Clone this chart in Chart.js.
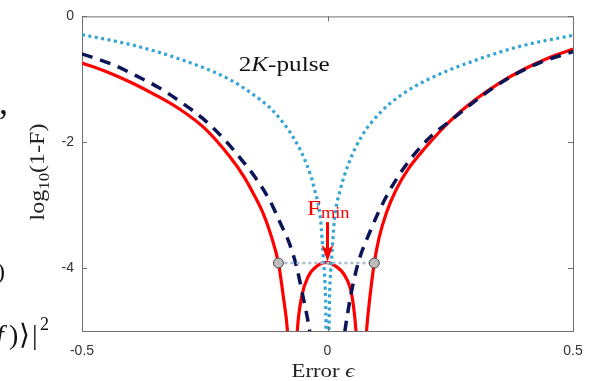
<!DOCTYPE html>
<html>
<head>
<meta charset="utf-8">
<script src="https://cdn.jsdelivr.net/npm/chart.js@4.4.0/dist/chart.umd.min.js"></script>
<style>
  html, body { margin: 0; padding: 0; background: #fff; }
  #wrap { width: 595px; height: 381px; }
</style>
</head>
<body>
<div id="wrap"><canvas id="chart" width="595" height="381"></canvas></div>
<script>
// axis ticks
const xTicks = [-0.5, 0, 0.5]
const yTicks = [0, -2, -4]

// 2K-pulse, dotted
const pulseX = [-0.5, -0.4, -0.3, -0.2, -0.15, -0.111, -0.07, -0.043, -0.026, -0.014, -0.0085, -0.004, 0,
  0.004, 0.0085, 0.014, 0.026, 0.043, 0.07, 0.111, 0.15, 0.2, 0.3, 0.4, 0.5]
const pulseY = [-0.29, -0.45, -0.68, -1.0, -1.25, -1.5, -1.92, -2.34, -2.76, -3.24, -3.85, -4.5, -6.5,
  -4.5, -3.85, -3.24, -2.76, -2.34, -1.9, -1.5, -1.25, -1.02, -0.7, -0.46, -0.3]

// dashed curve
const dashX = [-0.5, -0.439, -0.388, -0.344, -0.297, -0.256, -0.213, -0.179, -0.148, -0.118, -0.094, -0.077,
  -0.063, -0.05, -0.037, -0.02, 0, 0.02, 0.036, 0.058, 0.091, 0.118, 0.145, 0.175, 0.213, 0.25, 0.285,
  0.333, 0.38, 0.434, 0.5]
const dashY = [-0.595, -0.76, -0.95, -1.13, -1.37, -1.61, -1.93, -2.24, -2.55, -2.92, -3.32, -3.62,
  -3.98, -4.45, -4.97, -6.0, -8.0, -6.0, -4.97, -4.05, -3.34, -2.89, -2.53, -2.21, -1.89, -1.66, -1.44,
  -1.16, -0.93, -0.73, -0.56]

// solid curve
const solidX = [-0.5, -0.45, -0.4, -0.35, -0.3, -0.25, -0.2, -0.17, -0.15, -0.13, -0.115, -0.1, -0.09,
  -0.0815, -0.0705, -0.0615, -0.0525, -0.039, -0.02, -0.003, 0.015, 0.036, 0.05, 0.058, 0.0685,
  0.0795, 0.087, 0.0953, 0.105, 0.12, 0.14, 0.165, 0.2, 0.25, 0.3, 0.35, 0.4, 0.45, 0.5]
const solidY = [-0.74, -0.88, -1.05, -1.25, -1.48, -1.78, -2.22, -2.55, -2.83, -3.15, -3.48, -3.92, -4.45,
  -5.0, -6.5, -5.0, -4.45, -4.13, -3.96, -3.91, -3.96, -4.13, -4.45, -5.0, -6.5,
  -5.0, -4.42, -3.92, -3.52, -3.12, -2.75, -2.42, -2.08, -1.66, -1.33, -1.06, -0.84, -0.66, -0.52]

// F_min level and where the solid curve crosses it
const levelX = [-0.1, 0.0953]
const levelY = [-3.92, -3.92]

// F_min arrow (x, from y, to y)
const arrowX = 0
const arrowFrom = -3.27
const arrowTo = -3.9

const toPoints = (xs, ys) => xs.map((x, i) => ({ x: x, y: ys[i] }))

const frameColor = '#6e6e6e'
const serif = 'Liberation Serif'

function drawRuns(ctx, runs, x, y, align, stretch) {
  let w = 0
  runs.forEach(r => { ctx.font = r[1]; w += ctx.measureText(r[0]).width })
  let cx = align === 'center' ? -w / 2 : 0
  ctx.save()
  ctx.translate(x, y)
  ctx.scale(stretch, 1)
  ctx.textAlign = 'left'
  ctx.textBaseline = 'alphabetic'
  runs.forEach(r => {
    ctx.font = r[1]
    ctx.fillText(r[0], cx, r[2] || 0)
    cx += ctx.measureText(r[0]).width
  })
  ctx.restore()
}

// top/right border and inward tick marks
const framePlugin = {
  id: 'frame',
  afterDatasetsDraw(chart) {
    const { ctx, chartArea: a, scales } = chart
    ctx.save()
    ctx.strokeStyle = frameColor
    ctx.lineWidth = 1
    ctx.beginPath()
    ctx.moveTo(a.left, a.top + 0.5)
    ctx.lineTo(a.right + 0.5, a.top + 0.5)
    ctx.lineTo(a.right + 0.5, a.bottom)
    xTicks.forEach(v => {
      const px = Math.round(scales.x.getPixelForValue(v)) + 0.5
      ctx.moveTo(px, a.top); ctx.lineTo(px, a.top + 5)
      ctx.moveTo(px, a.bottom); ctx.lineTo(px, a.bottom - 5)
    })
    yTicks.forEach(v => {
      const py = Math.round(scales.y.getPixelForValue(v)) + 0.5
      ctx.moveTo(a.left, py); ctx.lineTo(a.left + 5, py)
      ctx.moveTo(a.right, py); ctx.lineTo(a.right - 5, py)
    })
    ctx.stroke()

    // F_min arrow
    const ax = scales.x.getPixelForValue(arrowX)
    const y0 = scales.y.getPixelForValue(arrowFrom)
    const y1 = scales.y.getPixelForValue(arrowTo)
    ctx.strokeStyle = '#ff0000'
    ctx.fillStyle = '#ff0000'
    ctx.lineWidth = 3
    ctx.beginPath()
    ctx.moveTo(ax, y0)
    ctx.lineTo(ax, y1 - 12)
    ctx.stroke()
    ctx.beginPath()
    ctx.moveTo(ax, y1)
    ctx.lineTo(ax - 6, y1 - 17)
    ctx.lineTo(ax, y1 - 12)
    ctx.lineTo(ax + 6, y1 - 17)
    ctx.closePath()
    ctx.fill()
    ctx.restore()
  }
}

// text labels
const textPlugin = {
  id: 'texts',
  afterDraw(chart) {
    const { ctx, scales } = chart
    ctx.save()
    ctx.fillStyle = '#111'
    drawRuns(ctx, [['2', '21px ' + serif], ['K', 'italic 21px ' + serif], ['-pulse', '21px ' + serif]],
      scales.x.getPixelForValue(-0.181), scales.y.getPixelForValue(-0.87), 'left', 1.2)

    ctx.fillStyle = '#ff0000'
    drawRuns(ctx, [['F', '22px ' + serif], ['min', '16px ' + serif, 3]],
      scales.x.getPixelForValue(-0.042), scales.y.getPixelForValue(-3.16), 'left', 1.15)

    ctx.fillStyle = '#222'
    drawRuns(ctx, [['Error ', '19px ' + serif], ['\u03F5', 'italic 19px ' + serif]], 323, 377, 'center', 1.2)

    ctx.save()
    ctx.translate(44, 172)
    ctx.rotate(-Math.PI / 2)
    drawRuns(ctx, [['log', '20px ' + serif], ['10', '14px ' + serif, 5], ['(1-F)', '20px ' + serif]], 0, 0, 'center', 1.2)
    ctx.restore()

    // clipped text of the neighbouring equation
    ctx.fillStyle = '#111'
    ctx.font = '36px ' + serif
    ctx.fillText(',', -1, 114)
    ctx.font = '24px ' + serif
    ctx.fillText(')', -3, 279)
    ctx.font = 'italic 28px ' + serif
    ctx.fillText('f', -4, 344)
    ctx.font = '28px ' + serif
    ctx.fillText(')', 9, 344)
    ctx.fillText('\u27E9', 19, 344)
    ctx.fillText('|', 32, 344)
    ctx.font = '18px ' + serif
    ctx.fillText('2', 40, 330)
    ctx.restore()
  }
}

new Chart(document.getElementById('chart'), {
  type: 'line',
  data: {
    datasets: [
      {
        label: 'level',
        data: toPoints(levelX, levelY),
        borderColor: '#a7bad2',
        borderWidth: 2.5,
        borderDash: [3, 3],
        pointRadius: 5,
        pointBackgroundColor: '#bdbdbd',
        pointBorderColor: '#4a4a4a',
        pointBorderWidth: 1,
        clip: 0
      },
      {
        label: '2K-pulse',
        data: toPoints(pulseX, pulseY),
        borderColor: '#33a4d4',
        borderWidth: 3.2,
        borderDash: [3, 3.5],
        borderCapStyle: 'butt',
        pointRadius: 0,
        cubicInterpolationMode: 'monotone',
        clip: 0
      },
      {
        label: 'dashed',
        data: toPoints(dashX, dashY),
        borderColor: '#0b1457',
        borderWidth: 3.5,
        borderDash: [11, 8],
        pointRadius: 0,
        cubicInterpolationMode: 'monotone',
        clip: 0
      },
      {
        label: 'solid',
        data: toPoints(solidX, solidY),
        borderColor: '#ff0000',
        borderWidth: 3.2,
        borderJoinStyle: 'round',
        pointRadius: 0,
        cubicInterpolationMode: 'monotone',
        clip: 0
      }
    ]
  },
  options: {
    responsive: false,
    animation: false,
    devicePixelRatio: 1,
    layout: { padding: { top: 15, right: 22, left: 0, bottom: 0 } },
    plugins: { legend: { display: false }, tooltip: { enabled: false } },
    scales: {
      x: {
        type: 'linear',
        min: -0.5,
        max: 0.5,
        afterBuildTicks: s => { s.ticks = xTicks.map(v => ({ value: v })) },
        afterFit: s => { s.height = 50 },
        grid: { display: false, drawTicks: false },
        border: { display: true, color: frameColor, width: 1 },
        ticks: {
          padding: 12,
          maxRotation: 0,
          color: '#333',
          font: { family: 'Liberation Sans', size: 14 },
          callback: v => String(v)
        }
      },
      y: {
        type: 'linear',
        min: -5,
        max: 0,
        afterBuildTicks: s => { s.ticks = yTicks.map(v => ({ value: v })) },
        afterFit: s => { s.width = 82 },
        grid: { display: false, drawTicks: false },
        border: { display: true, color: frameColor, width: 1 },
        ticks: {
          padding: 8,
          color: '#333',
          font: { family: 'Liberation Sans', size: 14 },
          callback: v => String(v)
        }
      }
    }
  },
  plugins: [framePlugin, textPlugin]
})
</script>
</body>
</html>
